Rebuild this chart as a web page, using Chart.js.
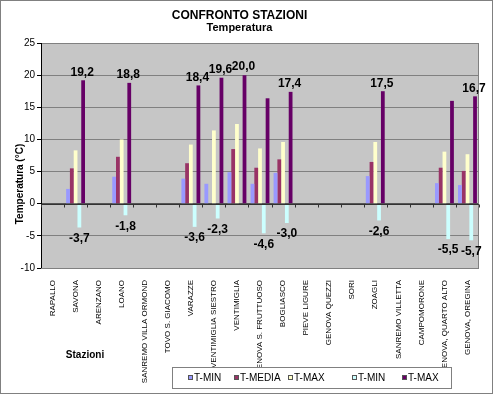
<!DOCTYPE html>
<html>
<head>
<meta charset="utf-8">
<script src="https://cdn.jsdelivr.net/npm/chart.js@4/dist/chart.umd.min.js"></script>
<style>
  html, body { margin: 0; padding: 0; background: #fff; }
  #wrap { width: 493px; height: 394px; }
</style>
</head>
<body>
<div id="wrap"><canvas id="chart"></canvas></div>
<script>
const stazioni = [
  'RAPALLO', 'SAVONA', 'ARENZANO', 'LOANO', 'SANREMO VILLA ORMOND', 'TOVO S. GIACOMO',
  'VARAZZE', 'VENTIMIGLIA SIESTRO', 'VENTIMIGLIA', 'GENOVA S. FRUTTUOSO', 'BOGLIASCO',
  'PIEVE LIGURE', 'GENOVA QUEZZI', 'SORI', 'ZOAGLI', 'SANREMO VILLETTA', 'CAMPOMORONE',
  'GENOVA, QUARTO ALTO', 'GENOVA, OREGINA'
];

// medie
const tMin   = [null, 2.3, null, 4.2, null, null, 3.9, 3.1, 4.9, 3.1, 4.8, null, null, null, 4.3, null, null, 3.2, 2.9];
const tMedia = [null, 5.5, null, 7.3, null, null, 6.3, null, 8.5, 5.6, 6.9, null, null, null, 6.5, null, null, 5.6, 5.1];
const tMax   = [null, 8.3, null, 10.0, null, null, 9.2, 11.4, 12.4, 8.6, 9.6, null, null, null, 9.6, null, null, 8.1, 7.7];
// assolute
const tMinAss = [null, -3.7, null, -1.8, null, null, -3.6, -2.3, null, -4.6, -3.0, null, null, null, -2.6, null, null, -5.5, -5.7];
const tMaxAss = [null, 19.2, null, 18.8, null, null, 18.4, 19.6, 20.0, 16.4, 17.4, null, null, null, 17.5, null, null, 16.0, 16.7];

const yTicks = [-10, -5, 0, 5, 10, 15, 20, 25];
const nascondiEtichetta = [9, 17];   // etichette T-MAX non mostrate

const FONT = 'Liberation Sans, Arial, sans-serif';
const fmt = v => v.toFixed(1).replace('.', ',');

const decorazioni = {
  id: 'decorazioni',
  beforeDraw(chart) {
    const { ctx, chartArea: a } = chart;
    ctx.save();
    ctx.fillStyle = '#fff';
    ctx.fillRect(0, 0, chart.width, chart.height);
    ctx.fillStyle = '#c6c6c6';
    ctx.fillRect(a.left, a.top, a.right - a.left, a.bottom - a.top);
    ctx.restore();
  },
  afterDatasetsDraw(chart) {
    const { ctx, chartArea: a } = chart;
    const y = chart.scales.y;
    ctx.save();
    // bordo area
    ctx.strokeStyle = '#808080';
    ctx.lineWidth = 1;
    ctx.strokeRect(a.left + 0.5, a.top + 0.5, a.right - a.left - 1, a.bottom - a.top);
    ctx.strokeStyle = '#000';
    ctx.beginPath();
    ctx.moveTo(a.left + 0.5, a.top); ctx.lineTo(a.left + 0.5, a.bottom);
    ctx.stroke();

    // tacche sull'asse dello zero
    const y0 = Math.round(y.getPixelForValue(0)) + 0.5;
    const step = (a.right - a.left) / stazioni.length;
    ctx.strokeStyle = '#333';
    ctx.beginPath();
    ctx.moveTo(a.left, y0); ctx.lineTo(a.right, y0);
    for (let i = 0; i <= stazioni.length; i++) {
      const tx = Math.round(a.left + i * step) + 0.5;
      ctx.moveTo(tx, y0); ctx.lineTo(tx, y0 + 3);
    }
    ctx.stroke();

    // etichette dati
    ctx.font = 'bold 12px ' + FONT;
    ctx.fillStyle = '#000';
    ctx.textAlign = 'center';
    chart.getDatasetMeta(4).data.forEach((bar, i) => {
      if (tMaxAss[i] == null || nascondiEtichetta.includes(i)) return;
      ctx.textBaseline = 'bottom';
      ctx.fillText(fmt(tMaxAss[i]), bar.x - 1, bar.y - 2);
    });
    chart.getDatasetMeta(3).data.forEach((bar, i) => {
      if (tMinAss[i] == null) return;
      ctx.textBaseline = 'top';
      ctx.fillText(fmt(tMinAss[i]), bar.x, bar.y + 5);
    });

    // titolo asse y
    ctx.font = 'bold 10px ' + FONT;
    ctx.save();
    ctx.translate(20, 184);
    ctx.rotate(-Math.PI / 2);
    ctx.textBaseline = 'middle';
    ctx.fillText('Temperatura (°C)', 0, 0);
    ctx.restore();

    // titolo asse x
    ctx.textBaseline = 'middle';
    ctx.fillText('Stazioni', 85, 355);

    // legenda
    const lx = 172, ly = 367, lw = 279, lh = 21;
    ctx.fillStyle = '#fff';
    ctx.fillRect(lx, ly, lw, lh);
    ctx.strokeStyle = '#808080';
    ctx.strokeRect(lx + 0.5, ly + 0.5, lw, lh);
    const posX = [188, 234, 288, 352, 402];
    ctx.font = '10px ' + FONT;
    ctx.textAlign = 'left';
    chart.data.datasets.forEach((ds, i) => {
      const mx = posX[i], my = ly + 8;
      ctx.fillStyle = ds.backgroundColor;
      ctx.fillRect(mx, my, 5, 5);
      ctx.strokeStyle = '#555';
      ctx.strokeRect(mx + 0.5, my + 0.5, 4, 4);
      ctx.fillStyle = '#000';
      ctx.fillText(ds.label, mx + 6, ly + 11);
    });

    // cornice grafico
    ctx.strokeStyle = '#808080';
    ctx.strokeRect(0.5, 0.5, chart.width - 1, chart.height - 1);
    ctx.restore();
  }
};

new Chart(document.getElementById('chart'), {
  type: 'bar',
  data: {
    labels: stazioni,
    datasets: [
      { label: 'T-MIN',   data: tMin,    backgroundColor: '#9999ff' },
      { label: 'T-MEDIA', data: tMedia,  backgroundColor: '#993366' },
      { label: 'T-MAX',   data: tMax,    backgroundColor: '#ffffcc' },
      { label: 'T-MIN',   data: tMinAss, backgroundColor: '#ccffff' },
      { label: 'T-MAX',   data: tMaxAss, backgroundColor: '#660066' }
    ]
  },
  options: {
    responsive: true,
    maintainAspectRatio: false,
    animation: false,
    layout: { padding: { left: 0, right: 14, top: 0, bottom: 0 } },
    datasets: { bar: { categoryPercentage: 0.82, barPercentage: 1.0, skipNull: false } },
    plugins: {
      legend: { display: false },
      tooltip: { enabled: false },
      title: {
        display: true,
        text: 'CONFRONTO STAZIONI',
        color: '#000',
        font: { family: FONT, size: 12, weight: 'bold', lineHeight: 1.1 },
        padding: { top: 9, bottom: 0 }
      },
      subtitle: {
        display: true,
        text: 'Temperatura',
        color: '#000',
        font: { family: FONT, size: 11, weight: 'bold', lineHeight: 1.1 },
        padding: { top: 0, bottom: 8.7 }
      }
    },
    scales: {
      x: {
        grid: { display: false },
        border: { display: false },
        ticks: {
          color: '#000',
          font: { family: FONT, size: 8 },
          minRotation: 90, maxRotation: 90,
          autoSkip: false,
          padding: 4
        },
        afterFit(scale) { scale.height = 126; }
      },
      y: {
        min: -10, max: 25,
        afterBuildTicks(scale) { scale.ticks = yTicks.map(v => ({ value: v })); },
        grid: {
          color: ctx => ctx.tick && ctx.tick.value === 0 ? '#555' : '#808080',
          tickLength: 4,
          tickColor: '#000'
        },
        border: { display: false },
        ticks: {
          color: '#000',
          font: { family: FONT, size: 10 },
          padding: 2
        },
        afterFit(scale) { scale.width = 41; }
      }
    }
  },
  plugins: [decorazioni]
});
</script>
</body>
</html>
